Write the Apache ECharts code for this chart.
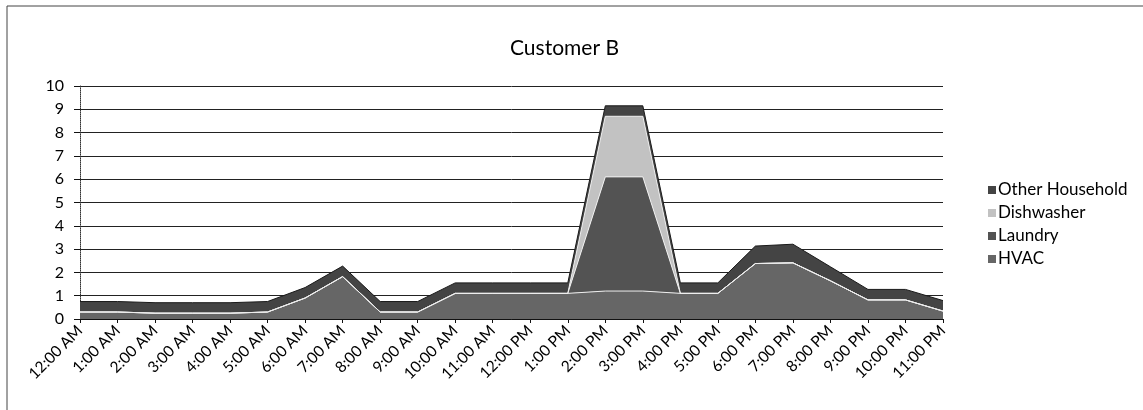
<!DOCTYPE html>
<html lang="en">
<head>
    <meta charset="UTF-8">
    <title>Customer B</title>
    <script type="text/javascript" src="https://cdn.jsdelivr.net/npm/echarts@6/dist/echarts.min.js"></script>
    <style>
        html, body { margin: 0; padding: 0; background: #fff; }
    </style>
</head>
<body>
<div id="main" style="width:1143px;height:410px;"></div>
</body>

<script>
    let hours = ['12:00 AM', '1:00 AM', '2:00 AM', '3:00 AM', '4:00 AM', '5:00 AM', '6:00 AM', '7:00 AM',
        '8:00 AM', '9:00 AM', '10:00 AM', '11:00 AM', '12:00 PM', '1:00 PM', '2:00 PM', '3:00 PM',
        '4:00 PM', '5:00 PM', '6:00 PM', '7:00 PM', '8:00 PM', '9:00 PM', '10:00 PM', '11:00 PM'];

    let hvac      = [0.3, 0.3, 0.25, 0.25, 0.25, 0.3, 0.9, 1.82, 0.3, 0.3, 1.1, 1.1, 1.1, 1.1, 1.2, 1.2, 1.1, 1.1, 2.38, 2.41, 1.64, 0.82, 0.82, 0.34];
    let laundry   = [0, 0, 0, 0, 0, 0, 0, 0, 0, 0, 0, 0, 0, 0, 4.9, 4.9, 0, 0, 0, 0, 0, 0, 0, 0];
    let dishwasher = [0, 0, 0, 0, 0, 0, 0, 0, 0, 0, 0, 0, 0, 0, 2.6, 2.6, 0, 0, 0, 0, 0, 0, 0, 0];
    let otherHousehold = [0.45, 0.45, 0.45, 0.45, 0.45, 0.45, 0.45, 0.45, 0.45, 0.45, 0.45, 0.45, 0.45, 0.45, 0.45, 0.45, 0.45, 0.45, 0.75, 0.8, 0.6, 0.45, 0.45, 0.45];

    let legendNames = ['Other Household', 'Dishwasher', 'Laundry', 'HVAC'];

    const font = 'Lato, "Open Sans", sans-serif';

    function areaSeries(name, data, color, edge) {
        return {
            name: name,
            type: 'line',
            stack: 'load',
            data: data,
            symbol: 'none',
            smooth: false,
            lineStyle: { color: edge, width: 1 },
            itemStyle: { color: color },
            areaStyle: { color: color, opacity: 1 },
            z: 2
        };
    }

    let myChart = echarts.init(document.getElementById('main'), null, { renderer: 'canvas' });

    let option = {
        backgroundColor: '#fff',
        animation: false,
        title: {
            text: 'Customer B',
            left: 505,
            top: 33,
            textStyle: { fontFamily: font, fontSize: 21, fontWeight: 'normal', color: '#000' }
        },
        legend: {
            orient: 'vertical',
            left: 983,
            top: 176,
            data: legendNames,
            icon: 'rect',
            itemWidth: 8,
            itemHeight: 8,
            itemGap: 5,
            textStyle: { fontFamily: font, fontSize: 17, color: '#000', lineHeight: 18, padding: [0, 0, 0, -3] }
        },
        grid: { left: 80, right: 200, top: 86, bottom: 91, containLabel: false },
        xAxis: {
            type: 'category',
            data: hours,
            boundaryGap: false,
            axisLine: { lineStyle: { color: '#111', width: 1 } },
            axisTick: { show: true, alignWithLabel: true, length: 4, lineStyle: { color: '#111' } },
            axisLabel: {
                interval: 0,
                rotate: 45,
                margin: 9,
                fontFamily: font,
                fontSize: 15.5,
                color: '#000'
            },
            splitLine: { show: false }
        },
        yAxis: {
            type: 'value',
            min: 0,
            max: 10,
            interval: 1,
            axisLine: { show: true, lineStyle: { color: '#333', width: 1, type: 'dotted' } },
            axisTick: { show: true, length: 6, lineStyle: { color: '#111' } },
            axisLabel: { fontFamily: font, fontSize: 16, color: '#000', margin: 16 },
            splitLine: { show: true, lineStyle: { color: '#222', width: 1 } }
        },
        graphic: [{
            type: 'polyline',
            shape: { points: [[7, 410], [7, 6], [1143, 6]] },
            style: { stroke: '#444', lineWidth: 1, fill: null },
            silent: true
        }],
        series: [
            areaSeries('HVAC', hvac, '#666666', '#eeeeee'),
            areaSeries('Laundry', laundry, '#535353', '#eeeeee'),
            areaSeries('Dishwasher', dishwasher, '#c2c2c2', '#eeeeee'),
            areaSeries('Other Household', otherHousehold, '#444444', '#1a1a1a')
        ]
    };

    myChart.setOption(option);
</script>
</html>
